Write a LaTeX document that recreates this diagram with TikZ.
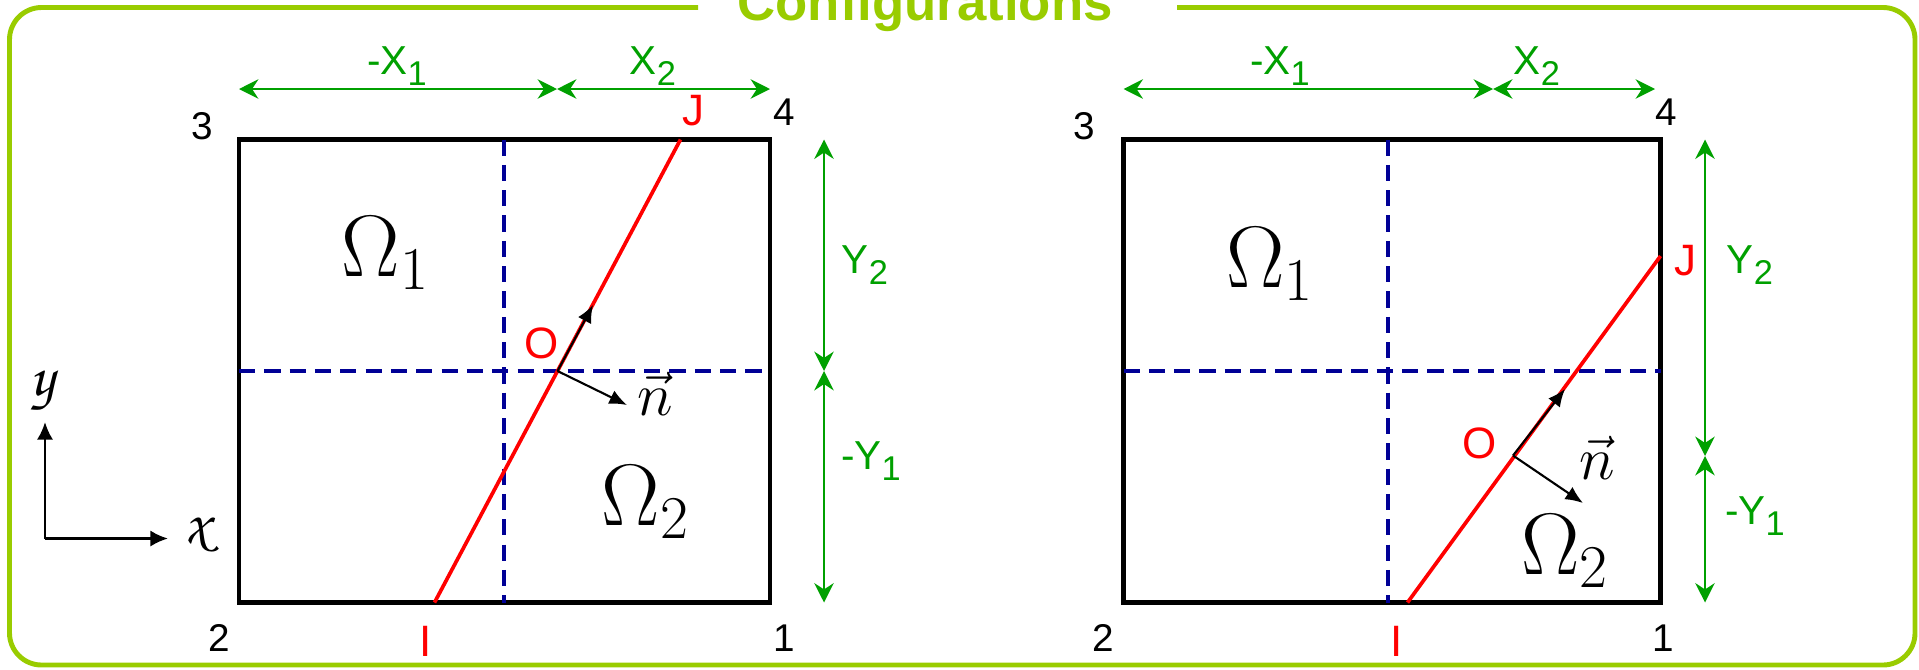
\documentclass[tikz,border=0pt]{standalone}
\usepackage[T1]{fontenc}
\usepackage{fontspec}
\setmainfont{Liberation Sans}
\usepackage{amsmath}
\usetikzlibrary{arrows.meta,positioning,calc}

\definecolor{framegreen}{RGB}{153,204,0}
\definecolor{dimgreen}{RGB}{0,160,0}
\definecolor{cutblue}{RGB}{0,0,150}
\newcommand{\lowsub}[1]{\raisebox{-0.55ex}{\scalebox{0.85}{#1}}}
\newcommand{\axislet}[1]{{\fontencoding{T1}\fontfamily{pzc}\fontseries{mb}\fontshape{it}\selectfont #1}}

\begin{document}
\begin{tikzpicture}[
  x=0.01cm, y=-0.01cm,
  frame/.style={draw=framegreen, line width=1.4pt, rounded corners=0.32cm},
  cell/.style={draw=black, line width=1.25pt},
  cut/.style={draw=cutblue, line width=1.05pt, dash pattern=on 4.6pt off 2.6pt},
  iface/.style={draw=red, line width=1.05pt},
  dimline/.style={draw=dimgreen, line width=0.75pt, {Stealth[length=5.5pt,width=5.5pt]}-{Stealth[length=5.5pt,width=5.5pt]}},
  vec/.style={draw=black, line width=0.6pt, -{Latex[length=5pt,width=4.2pt]}},
  axis/.style={draw=black, line width=0.75pt, -{Latex[length=5pt,width=4.6pt]}},
  corner/.style={font=\fontsize{11}{12}\selectfont, inner sep=0pt},
  pt/.style={text=red, font=\fontsize{12.5}{14}\selectfont, inner sep=0pt},
  dim/.style={text=dimgreen, font=\fontsize{11.5}{13}\selectfont, inner sep=0pt},
  dom/.style={font=\fontsize{23}{27}\selectfont, inner sep=0pt},
  nvec/.style={font=\fontsize{16}{19}\selectfont, inner sep=0pt}
]
  \clip (0,0) rectangle (1919,669);

  % outer frame and title
  \draw[frame] (1177,7.5) -- (1915,7.5) -- (1915,665) -- (9.5,665) -- (9.5,7.5) -- (698,7.5);
  \node[font=\bfseries\fontsize{15}{18}\selectfont, text=framegreen, anchor=base, inner sep=0pt] (title) at (925,20.5) {Configurations};

  % axes
  \coordinate (org) at (45,538.5);
  \coordinate (yend) at (45,422);
  \coordinate (xend) at (168,538.5);
  \draw[axis] (org) -- (yend);
  \draw[axis] (org) -- (xend);
  \node[font=\bfseries\fontsize{17}{20}\selectfont, inner sep=0pt] (ylab) at (42,392) {\axislet{y}};
  \node[font=\bfseries\fontsize{17}{20}\selectfont, inner sep=0pt] (xlab) at (197,536) {\axislet{x}};

  % left configuration
  \coordinate (L2) at (239,602.5);
  \coordinate (L4) at (770,139.5);
  \draw[cell] (L2) rectangle (L4);
  \draw[cut] (504,139.5) -- (504,602.5);
  \draw[cut] (239,371) -- (770,371);
  \coordinate (LI) at (434.5,602.5);
  \coordinate (LJ) at (680.5,139.5);
  \coordinate (LO) at ($(LI)!0.5!(LJ)$);
  \draw[iface] (LI) -- (LJ);
  \coordinate (LT) at (593,305);
  \coordinate (LN) at (627,405);
  \draw[vec] (LO) -- (LT);
  \draw[vec] (LO) -- (LN);

  \node[pt] (lo) at (542,343) {O};
  \node[pt] (li) at (426,641) {I};
  \node[pt] (lj) at (693,111) {J};
  \node[nvec] (ln) at (655,394) {$\vec{n}$};
  \node[dom] (lom1) at (386,253) {$\Omega_1$};
  \node[dom] (lom2) at (646,502) {$\Omega_2$};

  \node[corner] (l3) at (202.5,126) {3};
  \node[corner] (l4) at (784.5,112.5) {4};
  \node[corner] (l2) at (219,638) {2};
  \node[corner] (l1) at (784.5,638) {1};

  \coordinate (lxa) at (239,89);
  \coordinate (lxb) at (557,89);
  \coordinate (lxc) at (770,89);
  \draw[dimline] (lxa) -- (lxb);
  \draw[dimline] (lxb) -- (lxc);
  \node[dim] (lx1) at (397,66) {-X\lowsub{1}};
  \node[dim] (lx2) at (653,66) {X\lowsub{2}};

  \coordinate (lya) at (824,139.5);
  \coordinate (lyb) at (824,371);
  \coordinate (lyc) at (824,602.5);
  \draw[dimline] (lya) -- (lyb);
  \draw[dimline] (lyb) -- (lyc);
  \node[dim] (ly2) at (865,265) {Y\lowsub{2}};
  \node[dim] (ly1) at (871,461) {-Y\lowsub{1}};

  % right configuration
  \coordinate (R2) at (1123.5,602.5);
  \coordinate (R4) at (1660.5,139.5);
  \draw[cell] (R2) rectangle (R4);
  \draw[cut] (1388,139.5) -- (1388,602.5);
  \draw[cut] (1123.5,371) -- (1660.5,371);
  \coordinate (RI) at (1407.5,602.5);
  \coordinate (RJ) at (1660.5,256);
  \coordinate (RO) at (1513,455.5);
  \draw[iface] (RI) -- (RJ);
  \coordinate (RT) at (1565,389);
  \coordinate (RN) at (1583,503);
  \draw[vec] (RO) -- (RT);
  \draw[vec] (RO) -- (RN);

  \node[pt] (ro) at (1479.5,443) {O};
  \node[pt] (ri) at (1396.5,641) {I};
  \node[pt] (rj) at (1685,261) {J};
  \node[nvec] (rn) at (1597,458) {$\vec{n}$};
  \node[dom] (rom1) at (1270,264) {$\Omega_1$};
  \node[dom] (rom2) at (1565,551) {$\Omega_2$};

  \node[corner] (r3) at (1084,126) {3};
  \node[corner] (r4) at (1666,112.5) {4};
  \node[corner] (r2) at (1103,638) {2};
  \node[corner] (r1) at (1663,638) {1};

  \coordinate (rxa) at (1123.5,89);
  \coordinate (rxb) at (1493,89);
  \coordinate (rxc) at (1655,89);
  \draw[dimline] (rxa) -- (rxb);
  \draw[dimline] (rxb) -- (rxc);
  \node[dim] (rx1) at (1280,66) {-X\lowsub{1}};
  \node[dim] (rx2) at (1537,66) {X\lowsub{2}};

  \coordinate (rya) at (1705,139.5);
  \coordinate (ryb) at (1705,456);
  \coordinate (ryc) at (1705,602.5);
  \draw[dimline] (rya) -- (ryb);
  \draw[dimline] (ryb) -- (ryc);
  \node[dim] (ry2) at (1750,265) {Y\lowsub{2}};
  \node[dim] (ry1) at (1755,516) {-Y\lowsub{1}};
\end{tikzpicture}
\end{document}
